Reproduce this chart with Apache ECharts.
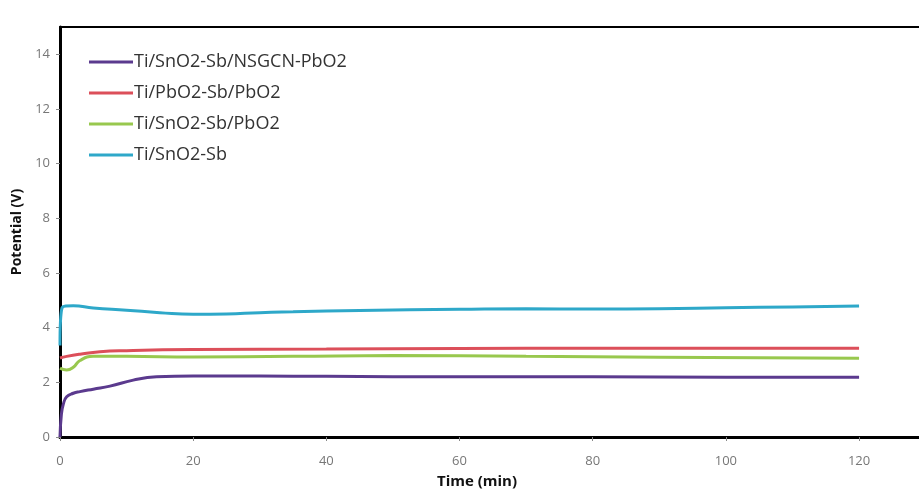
<!DOCTYPE html>
<html>
<head>
<meta charset="utf-8">
<script src="https://cdn.jsdelivr.net/npm/echarts@6/dist/echarts.min.js"></script>
<style>
  html, body { margin: 0; padding: 0; background: #fff; }
  #chart { width: 919px; height: 491px; }
</style>
</head>
<body>
<div id="chart"></div>
<script>
const seriesNames = ["Ti/SnO2-Sb/NSGCN-PbO2", "Ti/PbO2-Sb/PbO2", "Ti/SnO2-Sb/PbO2", "Ti/SnO2-Sb"];
const xTicks = [0, 20, 40, 60, 80, 100, 120];
const yTicks = [0, 2, 4, 6, 8, 10, 12, 14];

const nsgcnTime = [0, 0.2, 0.5, 1, 2, 3, 5, 7.5, 11, 14.5, 20, 30, 40, 60, 80, 100, 120];
const nsgcnPot = [0, 0.8, 1.2, 1.47, 1.6, 1.66, 1.75, 1.86, 2.08, 2.2, 2.23, 2.23, 2.22, 2.2, 2.2, 2.19, 2.19];

const pbo2Time = [0, 1, 3, 6, 10, 20, 40, 60, 80, 100, 120];
const pbo2Pot = [2.89, 2.95, 3.03, 3.12, 3.16, 3.2, 3.22, 3.24, 3.25, 3.25, 3.25];

const snPbTime = [0, 1, 2, 3, 5, 10, 20, 35, 50, 70, 90, 105, 120];
const snPbPot = [2.52, 2.45, 2.55, 2.8, 2.95, 2.95, 2.93, 2.95, 2.98, 2.95, 2.92, 2.9, 2.88];

const snTime = [0, 0.3, 2, 5, 10, 15, 20, 25, 30, 35, 45, 60, 70, 80, 90, 100, 110, 120];
const snPot = [3.35, 4.72, 4.8, 4.72, 4.64, 4.55, 4.49, 4.5, 4.55, 4.58, 4.63, 4.67, 4.69, 4.68, 4.69, 4.73, 4.76, 4.79];

const colors = ["#5b3a8e", "#dc4f5a", "#98c84e", "#2ea8c9"];

const pairs = (t, v) => t.map((x, i) => [x, v[i]]);

const chart = echarts.init(document.getElementById("chart"));
chart.setOption({
  animation: false,
  backgroundColor: "#fff",
  color: colors,
  textStyle: { fontFamily: "Open Sans, sans-serif" },
  title: {
    text: "Time (min)",
    left: 477,
    textAlign: "center",
    top: 474,
    padding: 0,
    textStyle: { fontSize: 15, fontWeight: "bold", color: "#111" },
  },
  grid: {
    left: 60,
    top: 27,
    bottom: 54,
    right: 0,
    containLabel: false,
    show: false,
  },
  legend: {
    left: 84,
    top: 48,
    orient: "vertical",
    itemGap: 13,
    itemWidth: 44,
    itemHeight: 20,
    icon: "path://M0,8.5 L44,8.5 L44,11.5 L0,11.5 Z",
    textStyle: { fontSize: 18, color: "#333", padding: [0, 0, 0, -4] },
    data: seriesNames,
  },
  xAxis: [
    {
      type: "value",
      min: 0,
      max: 129,
      interval: 10,
      axisLine: { lineStyle: { color: "#000", width: 3 } },
      axisTick: { length: 4, customValues: xTicks, lineStyle: { color: "#888" } },
      axisLabel: { color: "#777", fontSize: 13, margin: 18, customValues: xTicks },
      splitLine: { show: false },
    },
    {
      type: "value",
      position: "top",
      min: 0,
      max: 129,
      axisLine: { show: true, lineStyle: { color: "#000", width: 2 } },
      axisTick: { show: false },
      axisLabel: { show: false },
      splitLine: { show: false },
    },
  ],
  yAxis: {
    type: "value",
    min: 0,
    max: 15,
    interval: 1,
    name: "Potential (V)",
    nameLocation: "middle",
    nameGap: 33,
    nameTextStyle: { fontSize: 14, fontWeight: "bold", color: "#111" },
    axisLine: { show: true, lineStyle: { color: "#000", width: 3 } },
    axisTick: { show: true, length: 4, customValues: yTicks, lineStyle: { color: "#888" } },
    axisLabel: { color: "#777", fontSize: 13, margin: 10, customValues: yTicks },
    splitLine: { show: false },
  },
  series: [
    { name: seriesNames[0], type: "line", smooth: true, showSymbol: false, lineStyle: { width: 3 }, data: pairs(nsgcnTime, nsgcnPot) },
    { name: seriesNames[1], type: "line", smooth: true, showSymbol: false, lineStyle: { width: 3 }, data: pairs(pbo2Time, pbo2Pot) },
    { name: seriesNames[2], type: "line", smooth: true, showSymbol: false, lineStyle: { width: 3 }, data: pairs(snPbTime, snPbPot) },
    { name: seriesNames[3], type: "line", smooth: true, showSymbol: false, lineStyle: { width: 3 }, data: pairs(snTime, snPot) },
  ],
});
</script>
</body>
</html>
